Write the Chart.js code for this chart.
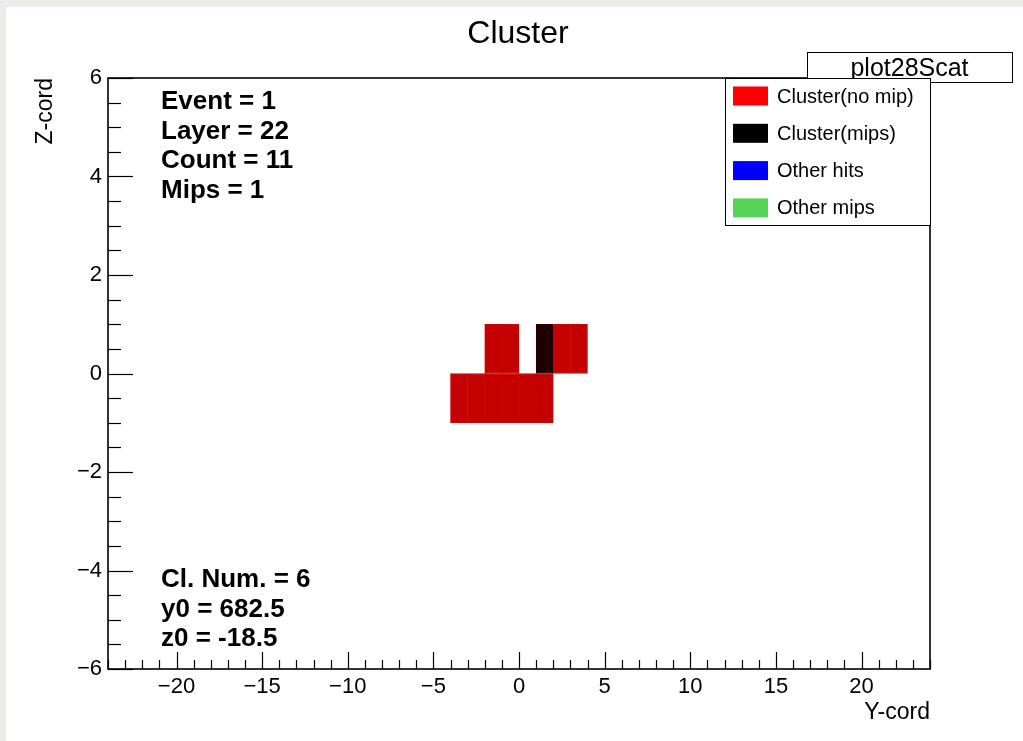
<!DOCTYPE html>
<html>
<head>
<meta charset="utf-8">
<title>Cluster</title>
<script src="https://cdn.jsdelivr.net/npm/chart.js@4.4.0/dist/chart.umd.min.js"></script>
<style>
  html, body { margin: 0; padding: 0; background: #ecebe8; }
  #frame { position: absolute; left: 6px; top: 7px; width: 1017px; height: 734px; background: #fff; }
</style>
</head>
<body>
<div id="frame"><canvas id="clusterChart" width="1017" height="734"></canvas></div>
<script>
const plotTitle = 'Cluster';
const histName = 'plot28Scat';
const seriesLabels = ['Cluster(no mip)', 'Cluster(mips)', 'Other hits', 'Other mips'];
const legendColors = ['#ff0000', '#000000', '#0000ff', '#57d357'];

// pad centres (Y-cord, Z-cord) of every hit, one pad = 1 x 1
const clusterY = [-3.5, -2.5, -1.5, -0.5, 0.5, 1.5, -1.5, -0.5, 2.5, 3.5];
const clusterZ = [-0.5, -0.5, -0.5, -0.5, -0.5, -0.5, 0.5, 0.5, 0.5, 0.5];
const mipY = [1.5];
const mipZ = [0.5];
const otherY = [];
const otherZ = [];
const otherMipY = [];
const otherMipZ = [];

const statsTop = ['Event = 1', 'Layer = 22', 'Count = 11', 'Mips = 1'];
const statsBottom = ['Cl. Num. = 6', 'y0 = 682.5', 'z0 = -18.5'];

const yRange = [-24, 24];
const zRange = [-6, 6];

const FONT = "'Liberation Sans', Arial, Helvetica, sans-serif";
const fmt = v => (v < 0 ? '\u2212' + Math.abs(v) : String(v));

function pads(ys, zs) {
  return ys.map((y, i) => ({ x: y, y: [zs[i] - 0.5, zs[i] + 0.5] }));
}

// frame, inward ticks, title, stats and legend boxes
const rootFrame = {
  id: 'rootFrame',
  afterDatasetsDraw(chart) {
    const { ctx, chartArea: a, scales: { x, y } } = chart;
    ctx.save();
    ctx.strokeStyle = '#000';
    ctx.lineWidth = 1.2;
    x.ticks.forEach(t => {
      const px = Math.round(x.getPixelForValue(t.value)) + 0.5;
      const len = t.value % 5 === 0 ? 17 : 9;
      ctx.beginPath();
      ctx.moveTo(px, a.bottom);
      ctx.lineTo(px, a.bottom - len);
      ctx.stroke();
    });
    y.ticks.forEach(t => {
      const py = Math.round(y.getPixelForValue(t.value)) + 0.5;
      const len = t.value % 2 === 0 ? 25 : 13;
      ctx.beginPath();
      ctx.moveTo(a.left, py);
      ctx.lineTo(a.left + len, py);
      ctx.stroke();
    });
    ctx.lineWidth = 1.6;
    ctx.strokeRect(a.left, a.top, a.right - a.left, a.bottom - a.top);

    ctx.fillStyle = '#000';
    ctx.textBaseline = 'alphabetic';
    ctx.textAlign = 'center';
    ctx.font = '32px ' + FONT;
    ctx.fillText(plotTitle, (a.left + a.right) / 2 - 1, a.top - 35);

    ctx.textAlign = 'left';
    ctx.font = 'bold 26px ' + FONT;
    statsTop.forEach((s, i) => ctx.fillText(s, a.left + 53, a.top + 31 + i * 29.5));
    statsBottom.forEach((s, i) => ctx.fillText(s, a.left + 53, a.bottom - 82 + i * 29.5));

    // histogram name box
    ctx.lineWidth = 1;
    const bx = a.right - 123, by = a.top - 26;
    ctx.fillStyle = '#fff';
    ctx.fillRect(bx, by, 205, 30);
    ctx.strokeRect(bx + 0.5, by + 0.5, 205, 30);
    ctx.fillStyle = '#000';
    ctx.textAlign = 'center';
    ctx.font = '25px ' + FONT;
    ctx.fillText(histName, bx + 102.5, by + 24);

    // legend
    const lx = a.right - 205, ly = a.top;
    ctx.fillStyle = '#fff';
    ctx.fillRect(lx, ly, 205, 147);
    ctx.strokeRect(lx + 0.5, ly + 0.5, 205, 147);
    ctx.font = '20px ' + FONT;
    ctx.textAlign = 'left';
    ctx.textBaseline = 'middle';
    chart.data.datasets.forEach((ds, i) => {
      const cy = ly + 18 + i * 37.3;
      ctx.fillStyle = legendColors[i];
      ctx.fillRect(lx + 8, cy - 9.5, 35, 19);
      ctx.fillStyle = '#000';
      ctx.fillText(ds.label, lx + 52, cy + 1);
    });
    ctx.restore();
  }
};

const barStyle = {
  borderWidth: 1,
  borderSkipped: false,
  grouped: false,
  barPercentage: 1,
  categoryPercentage: 1
};

new Chart(document.getElementById('clusterChart'), {
  type: 'bar',
  data: {
    datasets: [
      { label: seriesLabels[0], data: pads(clusterY, clusterZ), backgroundColor: '#c40000', borderColor: '#c70606', ...barStyle },
      { label: seriesLabels[1], data: pads(mipY, mipZ), backgroundColor: '#1e0000', borderColor: '#260303', ...barStyle },
      { label: seriesLabels[2], data: pads(otherY, otherZ), backgroundColor: '#0000c4', ...barStyle },
      { label: seriesLabels[3], data: pads(otherMipY, otherMipZ), backgroundColor: '#40b040', ...barStyle }
    ]
  },
  options: {
    responsive: false,
    animation: false,
    layout: { padding: { top: 71, right: 93, bottom: 0, left: 0 } },
    plugins: { legend: { display: false }, tooltip: { enabled: false }, title: { display: false } },
    scales: {
      x: {
        type: 'linear',
        min: yRange[0],
        max: yRange[1],
        offset: false,
        grid: { display: false, drawTicks: false, offset: false },
        border: { display: false },
        ticks: {
          stepSize: 1,
          autoSkip: false,
          maxRotation: 0,
          padding: 5,
          color: '#000',
          font: { family: FONT, size: 22 },
          callback: v => (v % 5 === 0 ? fmt(v) : '')
        },
        title: { display: true, text: 'Y-cord', align: 'end', color: '#000', font: { family: FONT, size: 23 }, padding: { top: 0, bottom: 15 } },
        afterFit: s => { s.height = 72; }
      },
      y: {
        type: 'linear',
        min: zRange[0],
        max: zRange[1],
        grid: { display: false, drawTicks: false },
        border: { display: false },
        ticks: {
          stepSize: 0.5,
          autoSkip: false,
          padding: 6,
          color: '#000',
          font: { family: FONT, size: 22 },
          callback: v => (v % 2 === 0 ? fmt(v) : '')
        },
        title: { display: true, text: 'Z-cord', align: 'end', color: '#000', font: { family: FONT, size: 23 }, padding: { top: 26, bottom: 0 } },
        afterFit: s => { s.width = 102; }
      }
    }
  },
  plugins: [rootFrame]
});
</script>
</body>
</html>
